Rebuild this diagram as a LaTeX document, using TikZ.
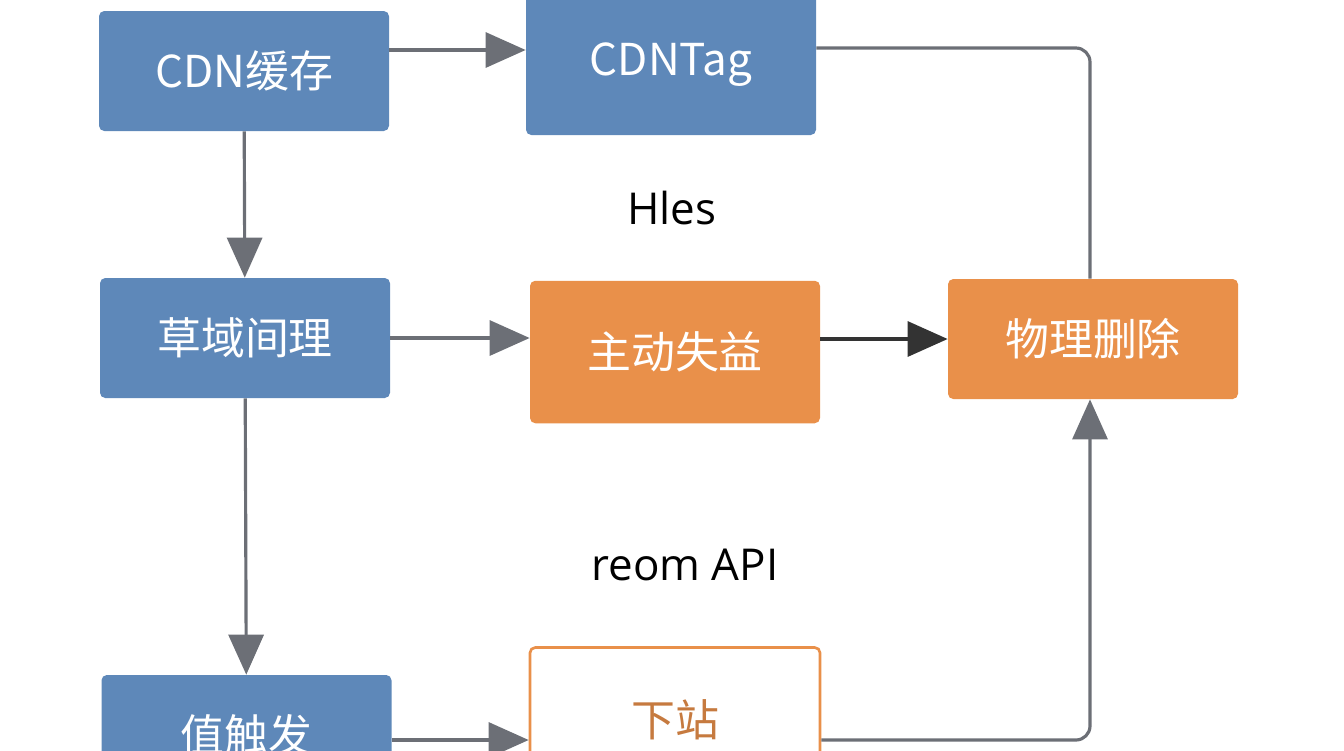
\documentclass[tikz,border=0pt]{standalone}
\usepackage{fontspec}
\setmainfont{Open Sans}
\newfontfamily\cjk{Noto Sans CJK SC}
\usetikzlibrary{arrows.meta}
\definecolor{boxblue}{HTML}{5E88B9}
\definecolor{boxorange}{HTML}{E9904A}
\definecolor{linegray}{HTML}{6C6F76}
\begin{document}
\begin{tikzpicture}
\tikzstyle{bluebox} = [rectangle, rounded corners=3pt, fill=boxblue, text=white, minimum width=5.8cm, minimum height=2.4cm, font=\cjk\fontsize{25}{28}\selectfont] % blue step
\tikzstyle{orangebox} = [bluebox, fill=boxorange] % orange step
\tikzstyle{emptybox} = [bluebox, fill=white, draw=boxorange, line width=1.5pt, text=boxorange!85!black] % outlined step
\tikzstyle{myarrow} = [draw=linegray, line width=1.8pt, -{Triangle[length=0.8cm,width=0.7cm]}]
\tikzstyle{myline} = [draw=linegray, line width=1.8pt, rounded corners=8pt]
\useasboundingbox (0,0) rectangle (26.88,-15);
\node[bluebox] (cache) at (4.88,-1.42) {CDN缓存};
\node[bluebox, minimum height=2.8cm] (tag) at (13.42,-1.3) {CDNTag};
\node[bluebox] (scope) at (4.9,-6.76) {草域间理};
\node[orangebox, minimum height=2.85cm] (active) at (13.5,-7.04) {主动失益};
\node[orangebox] (delete) at (21.86,-6.78) {物理删除};
\node[bluebox] (trigger) at (4.93,-14.7) {值触发};
\node[emptybox, minimum height=2.9cm] (down) at (13.5,-14.4) {下站};
\node[font=\fontsize{25}{28}\selectfont] (hles) at (13.44,-4.16) {Hles};
\node[font=\fontsize{25}{28}\selectfont] (api) at (13.7,-11.3) {reom API};
\coordinate (tr) at (21.8,-0.96);
\coordinate (br) at (21.8,-14.8);
\draw[myarrow] (cache.east |- 0,-1.0) -- (tag.west |- 0,-1.0);
\draw[myarrow] (cache) -- (scope);
\draw[myarrow] (scope.east) -- (active.west |- scope.east);
\draw[myarrow, draw=black!80] (active.east |- delete.west) -- (delete.west);
\draw[myarrow] (scope) -- (trigger);
\draw[myarrow] (trigger.east |- 0,-14.8) -- (down.west |- 0,-14.8);
\draw[myline] (tag.east |- tr) -- (tr) -- (delete.north -| tr);
\draw[myarrow, rounded corners=8pt] (down.east |- br) -- (br) -- (delete.south -| br);
\end{tikzpicture}
\end{document}
